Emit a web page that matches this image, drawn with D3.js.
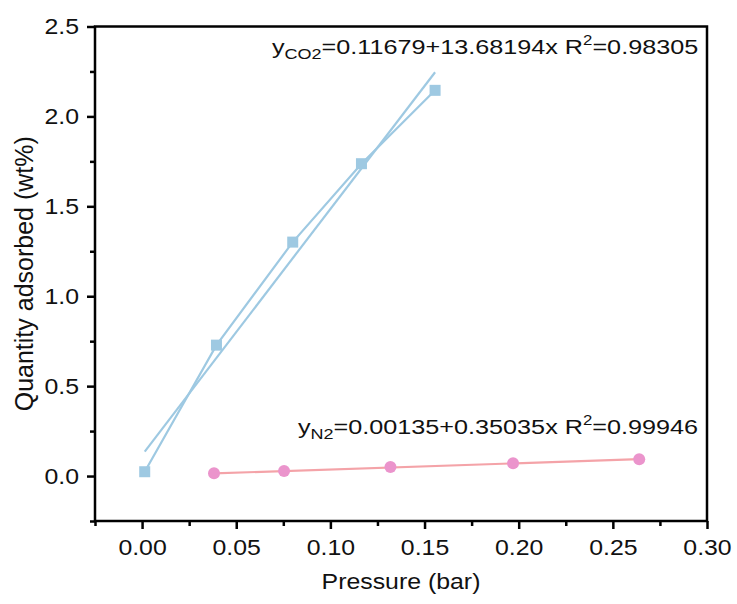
<!DOCTYPE html>
<html>
<head>
<meta charset="utf-8">
<script src="https://cdn.jsdelivr.net/npm/d3@7"></script>
<style>
  body { margin: 0; background: #fff; }
  text { font-family: "Liberation Sans", Arial, sans-serif; fill: #111; }
</style>
</head>
<body>
<div id="chart"></div>
<script>
// CO2 isotherm points (pressure bar, wt%)
const co2Pressure = [0.0014, 0.0395, 0.080, 0.1165, 0.1556];
const co2Quantity = [0.024, 0.728, 1.301, 1.737, 2.145];
// N2 isotherm points
const n2Pressure = [0.0382, 0.0754, 0.1319, 0.197, 0.264];
const n2Quantity = [0.015, 0.028, 0.050, 0.071, 0.093];
// linear fit coefficients as printed: [intercept, slope, R2]
const co2Fit = [0.11679, 13.68194, 0.98305];
const n2Fit = [0.00135, 0.35035, 0.99946];

const xTicks = [0, 0.05, 0.1, 0.15, 0.2, 0.25, 0.3];
const yTicks = [0, 0.5, 1.0, 1.5, 2.0, 2.5];

const width = 737, height = 604;
const margin = { top: 26.5, right: 30, bottom: 83, left: 95 };
const stretch = 1.13; // the original lettering is a little wide

const svg = d3.select("#chart").append("svg")
  .attr("width", width)
  .attr("height", height);

const x = d3.scaleLinear().domain([-0.025, 0.3]).range([margin.left, width - margin.right]);
const y = d3.scaleLinear().domain([-0.25, 2.5]).range([height - margin.bottom, margin.top]);

const co2Color = "#9ec9e2";
const n2Color = "#eb94cc";
const n2LineColor = "#f4a3a8";

// frame
svg.append("rect")
  .attr("x", x(-0.025)).attr("y", y(2.5))
  .attr("width", x(0.3) - x(-0.025))
  .attr("height", y(-0.25) - y(2.5))
  .attr("fill", "none").attr("stroke", "#000").attr("stroke-width", 2.5);

// minor ticks
const xMinor = d3.range(-0.025, 0.3, 0.05);
const yMinor = d3.range(-0.25, 2.5, 0.5);
svg.append("g")
  .attr("transform", `translate(0,${y(-0.25)})`)
  .call(d3.axisBottom(x).tickValues(xMinor).tickSize(5).tickFormat(""))
  .call(g => g.select(".domain").remove())
  .selectAll("line").attr("stroke-width", 2.5);
svg.append("g")
  .attr("transform", `translate(${x(-0.025)},0)`)
  .call(d3.axisLeft(y).tickValues(yMinor).tickSize(5).tickFormat(""))
  .call(g => g.select(".domain").remove())
  .selectAll("line").attr("stroke-width", 2.5);

// major axes
const xAxis = svg.append("g")
  .attr("transform", `translate(0,${y(-0.25)})`)
  .call(d3.axisBottom(x).tickValues(xTicks).tickSize(8).tickPadding(10).tickFormat(d3.format(".2f")));
xAxis.select(".domain").remove();
xAxis.selectAll("line").attr("stroke-width", 2.5);
xAxis.selectAll("text")
  .attr("font-size", 22).attr("font-family", "Liberation Sans, Arial, sans-serif").attr("fill", "#111")
  .attr("transform", `scale(${stretch},1)`);

const yAxis = svg.append("g")
  .attr("transform", `translate(${x(-0.025)},0)`)
  .call(d3.axisLeft(y).tickValues(yTicks).tickSize(8).tickFormat(d3.format(".1f")));
yAxis.select(".domain").remove();
yAxis.selectAll("line").attr("stroke-width", 2.5);
yAxis.selectAll("text")
  .attr("font-size", 22).attr("font-family", "Liberation Sans, Arial, sans-serif").attr("fill", "#111")
  .attr("x", 0)
  .attr("transform", `translate(-16,0) scale(${stretch},1)`);

// axis titles
svg.append("text")
  .attr("transform", `translate(${(x(-0.025) + x(0.3)) / 2},589) scale(${stretch},1)`)
  .attr("text-anchor", "middle")
  .attr("font-size", 22)
  .text("Pressure (bar)");

svg.append("text")
  .attr("transform", `translate(33,${(y(-0.25) + y(2.5)) / 2}) rotate(-90)`)
  .attr("text-anchor", "middle")
  .attr("font-size", 25)
  .text("Quantity adsorbed (wt%)");

const line = d3.line().x(d => x(d[0])).y(d => y(d[1]));

function fitLine(px, fit) {
  const ext = d3.extent(px);
  return ext.map(p => [p, fit[0] + fit[1] * p]);
}

// CO2 connecting line + fit
const co2 = co2Pressure.map((p, i) => [p, co2Quantity[i]]);
svg.append("path").datum(co2).attr("d", line)
  .attr("fill", "none").attr("stroke", co2Color).attr("stroke-width", 2.2);
svg.append("path").datum(fitLine(co2Pressure, co2Fit)).attr("d", line)
  .attr("fill", "none").attr("stroke", co2Color).attr("stroke-width", 2.2);
svg.selectAll("rect.co2").data(co2).enter().append("rect")
  .attr("class", "co2")
  .attr("x", d => x(d[0]) - 5.5).attr("y", d => y(d[1]) - 5.5)
  .attr("width", 11).attr("height", 11)
  .attr("fill", co2Color);

// N2 line + fit
const n2 = n2Pressure.map((p, i) => [p, n2Quantity[i]]);
svg.append("path").datum(fitLine(n2Pressure, n2Fit)).attr("d", line)
  .attr("fill", "none").attr("stroke", n2LineColor).attr("stroke-width", 2.2);
svg.selectAll("circle.n2").data(n2).enter().append("circle")
  .attr("class", "n2")
  .attr("cx", d => x(d[0])).attr("cy", d => y(d[1]))
  .attr("r", 6)
  .attr("fill", n2Color);

// equations
function equation(xPos, yPos, sub, fit) {
  const t = svg.append("text")
    .attr("transform", `translate(${xPos},${yPos}) scale(1.2,1)`)
    .attr("font-size", 21);
  t.append("tspan").text("y");
  t.append("tspan").attr("font-size", 15).attr("dy", 5).text(sub);
  t.append("tspan").attr("dy", -5).text(`=${fit[0].toFixed(5)}+${fit[1].toFixed(5)}x R`);
  t.append("tspan").attr("font-size", 14).attr("dy", -9).text("2");
  t.append("tspan").attr("dy", 9).text(`=${fit[2].toFixed(5)}`);
}
equation(272, 54, "CO2", co2Fit);
equation(298, 434, "N2", n2Fit);
</script>
</body>
</html>
